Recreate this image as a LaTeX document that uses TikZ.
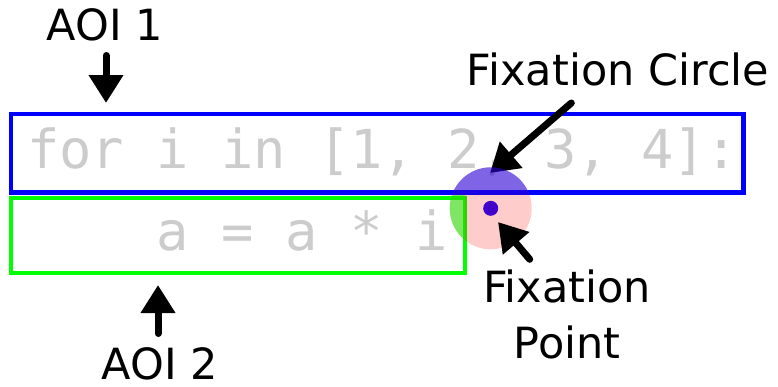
\documentclass[tikz,border=0pt]{standalone}
\usepackage{fontspec}
\setmainfont{DejaVu Sans}
\newfontfamily\codefont{DejaVu Sans Mono}
\usetikzlibrary{arrows.meta}
\definecolor{codegray}{RGB}{204,204,204}
\definecolor{aoiblue}{RGB}{0,0,255}
\definecolor{aoigreen}{RGB}{0,255,0}
\definecolor{dotcol}{RGB}{64,0,204}
\begin{document}
\begin{tikzpicture}[x=1pt,y=-1pt,
  lbl/.style={font=\fontsize{43}{56}\selectfont, inner sep=0pt, outer sep=0pt, anchor=base},
  code/.style={font=\codefont\fontsize{53.7}{60}\selectfont, text=codegray, inner sep=0pt, outer sep=0pt, anchor=base west},
  aoibox/.style={line width=4.3pt, inner sep=0pt, outer sep=0pt, anchor=north west},
  arr/.style={line width=7pt, line cap=round, -{Triangle[width=33pt,length=28pt]}}
]
\useasboundingbox (0,0) rectangle (778,386);
\fill[white] (0,0) rectangle (778,386);

% AOI boxes
\node[aoibox, draw=aoiblue, minimum width=732.7pt, minimum height=78.7pt] (aoi1box) at (10.8,113.8) {};
\node[aoibox, draw=aoigreen, minimum width=453.9pt, minimum height=75pt] (aoi2box) at (10.8,198) {};

% code
\node[code] (line1) at (27.1,168) {for i in [1, 2, 3, 4]:};
\node[code] (line2) at (27.1,250) {\ \ \ \ a = a * i};

% labels
\node[lbl] (aoi1) at (105,40) {AOI 1};
\node[lbl] (aoi2) at (160,379) {AOI 2};
\node[lbl] (fc) at (618,85) {Fixation Circle};
\node[lbl, align=center] (fp) at (567,358) {Fixation\\Point};

% arrow end points
\coordinate (aoi1tail) at (106,55.5);
\coordinate (aoi1tip) at (106,103);
\coordinate (aoi2tail) at (158,333.5);
\coordinate (aoi2tip) at (158,285);
\coordinate (fctail) at (571.3,103);
\coordinate (fctip) at (490,173);
\coordinate (fptail) at (529.7,259.3);
\coordinate (fptip) at (498,222);

\draw[arr] (aoi1tail) -- (aoi1tip);
\draw[arr] (aoi2tail) -- (aoi2tip);
\draw[arr] (fctail) -- (fctip);

% fixation circle
\coordinate (fix) at (490.7,208.3);
\fill[red, fill opacity=0.2] (fix) circle (41pt);
\begin{scope}
  \clip (fix) circle (41pt);
  \fill[aoiblue, fill opacity=0.5] (440,150) rectangle (545,195);
  \fill[aoigreen, fill opacity=0.5] (440,195) rectangle (464.7,260);
\end{scope}
\fill[dotcol] (fix) circle (7.5pt);

\draw[arr] (fptail) -- (fptip);
\end{tikzpicture}
\end{document}
